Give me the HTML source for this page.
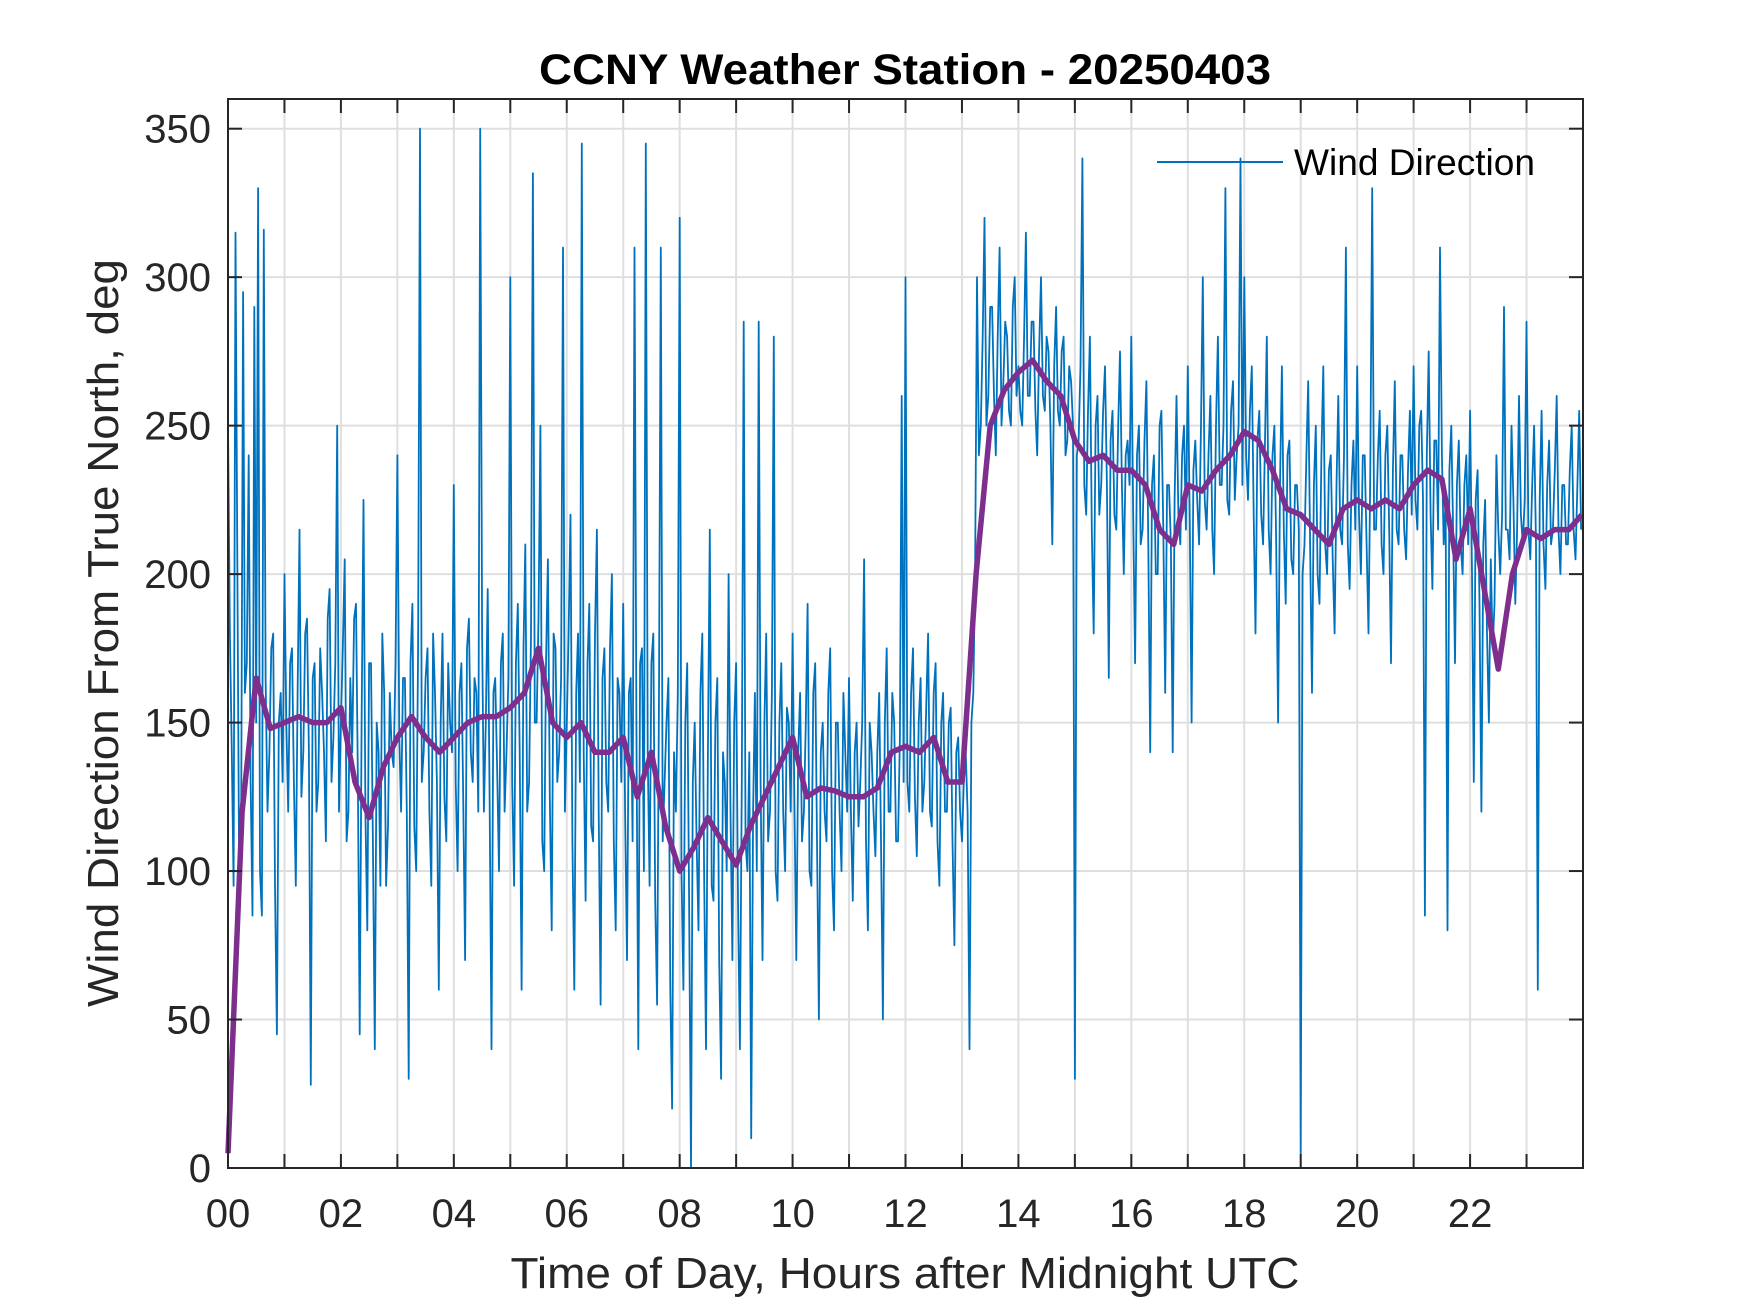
<!DOCTYPE html>
<html><head><meta charset="utf-8"><style>
html,body{margin:0;padding:0;background:#fff;}
svg{display:block;font-family:"Liberation Sans",Arial,sans-serif;}
</style></head><body>
<svg id="chart" width="1750" height="1313" viewBox="0 0 1750 1313" xmlns="http://www.w3.org/2000/svg">
<rect width="1750" height="1313" fill="#fff"/>
<g id="grid"></g>
<g id="series"></g>
<g id="axes"></g>
<text x="905" y="84" text-anchor="middle" font-size="43" font-weight="bold" fill="#000" textLength="732" lengthAdjust="spacingAndGlyphs">CCNY Weather Station - 20250403</text>
<text x="905" y="1288" text-anchor="middle" font-size="44" fill="#262626" textLength="789" lengthAdjust="spacingAndGlyphs">Time of Day, Hours after Midnight UTC</text>
<text transform="translate(118,633) rotate(-90)" text-anchor="middle" font-size="44" fill="#262626" textLength="748" lengthAdjust="spacingAndGlyphs">Wind Direction From True North, deg</text>
<g>
<line x1="1157" y1="162" x2="1283" y2="162" stroke="#0072BD" stroke-width="2"/>
<text x="1294" y="175" font-size="37" fill="#000" textLength="241" lengthAdjust="spacingAndGlyphs">Wind Direction</text>
</g>
</svg>
<script>
const xTickLabels = ["00","02","04","06","08","10","12","14","16","18","20","22"];
const yTickValues = [0,50,100,150,200,250,300,350];
const windDirection = [
250,180,140,95,315,200,90,120,295,160,170,240,130,85,290,150,330,100,85,316,165,120,140,175,180,95,45,150,160,130,
200,150,120,170,175,130,95,160,215,125,140,180,185,140,28,165,170,120,130,175,160,140,110,185,195,130,145,170,250,120,
150,175,205,110,120,165,140,185,190,130,45,150,225,120,80,170,170,110,40,150,140,95,180,160,95,115,160,140,135,170,
240,145,120,165,165,120,30,170,190,115,100,175,350,130,140,165,175,120,95,180,160,130,60,150,180,125,110,170,150,140,
230,130,100,160,170,125,70,175,185,140,130,165,160,120,350,180,120,150,195,125,40,160,165,135,100,170,180,120,140,165,
300,130,95,170,190,140,60,175,210,120,130,180,335,150,150,185,250,110,100,170,205,125,80,180,175,130,140,165,310,120,
150,180,220,110,60,160,180,130,345,140,90,170,190,115,110,180,215,120,55,165,175,130,120,175,200,110,80,165,160,130,
190,120,70,160,165,110,310,150,40,170,175,100,345,140,95,170,180,90,55,160,310,110,130,150,165,60,20,140,120,160,
320,100,60,150,170,90,0,130,150,110,80,160,180,100,40,140,215,95,90,150,165,70,30,140,130,100,200,120,70,150,
170,90,40,130,285,110,100,140,10,120,160,100,285,130,70,150,180,110,120,160,280,100,90,150,170,120,100,155,150,120,
180,120,70,140,160,110,120,150,190,100,95,160,170,110,50,140,150,120,110,160,175,100,80,150,150,120,100,160,140,120,
165,120,90,140,150,115,130,150,205,110,80,150,140,120,105,140,160,110,50,150,175,120,120,160,150,110,110,145,260,130,
300,130,120,160,175,125,105,150,165,120,130,155,180,120,115,160,170,110,95,150,160,120,120,150,155,110,75,140,145,120,
110,130,140,120,40,150,160,200,300,240,250,280,320,250,260,290,290,260,240,280,310,250,265,285,280,255,250,290,300,260,
270,255,250,280,315,260,260,285,285,255,240,275,300,260,255,280,275,250,210,270,290,255,250,275,280,240,245,270,265,250,
30,240,245,270,340,230,220,255,280,215,180,250,260,220,230,255,270,230,165,245,255,220,215,250,275,230,200,240,245,230,
280,220,170,240,250,210,215,245,265,210,140,230,240,200,200,250,255,215,160,230,230,210,140,225,260,220,210,240,250,215,
270,220,150,235,245,225,210,250,300,225,215,240,260,215,200,250,280,230,230,250,330,225,220,255,265,225,240,250,340,230,
300,240,225,255,270,220,180,245,255,220,210,245,280,215,200,240,250,210,150,230,270,215,190,240,245,205,200,230,230,215,
5,200,210,240,265,210,160,230,250,200,190,240,270,210,200,235,240,205,180,230,260,215,210,240,310,210,195,230,245,215,
270,220,200,240,240,210,180,235,330,215,215,240,255,210,200,240,250,215,170,235,265,215,210,240,240,215,205,235,255,220,
270,225,215,250,255,225,85,240,275,220,195,245,245,215,310,240,210,225,80,235,250,215,170,230,245,210,200,230,240,210,
255,200,130,225,235,190,120,210,225,180,150,205,175,190,240,215,200,220,290,215,215,205,250,225,190,215,260,220,210,225,
285,215,205,230,250,210,60,225,255,210,195,230,245,210,215,235,260,215,200,230,230,210,210,235,250,215,205,230,255,215
];
const windSamplesPerHour = 30;
const smoothedDirection = [
5,120,165,148,150,152,150,150,155,130,118,135,145,152,145,140,
145,150,152,152,155,160,175,150,145,150,140,140,145,125,140,115,
100,108,118,110,102,115,125,135,145,125,128,127,125,125,128,140,
142,140,145,130,130,200,250,262,268,272,265,260,245,238,240,235,
235,230,215,210,230,228,235,240,248,245,235,222,220,215,210,222,
225,222,225,222,230,235,232,205,222,195,168,200,215,212,215,215,220
];
const smoothedStepHours = 0.25;

const L=228, R=1583, T=99, B=1168, XMAX=24, YMAX=360;
const xs = h => L + (R-L)*h/XMAX;
const ys = v => B - (B-T)*v/YMAX;
const NS="http://www.w3.org/2000/svg";
function mk(tag, attrs, parent){const e=document.createElementNS(NS,tag);for(const k in attrs)e.setAttribute(k,attrs[k]);parent.appendChild(e);return e;}
const grid=document.getElementById('grid'), series=document.getElementById('series'), axes=document.getElementById('axes');

for(let h=1;h<XMAX;h++){
  const g=mk('line',{x1:xs(h),x2:xs(h),y1:T,y2:B,stroke:'#dfdfdf','stroke-width':2},grid);
  
  
}
yTickValues.forEach(v=>{
  if(v===0) return;
  const g=mk('line',{x1:L,x2:R,y1:ys(v),y2:ys(v),stroke:'#dfdfdf','stroke-width':2},grid);
  
  
});

const bluePts = windDirection.map((v,i)=>xs(Math.min(i/windSamplesPerHour,23.98)).toFixed(1)+','+ys(v).toFixed(1)).join(' ');
const blue=mk('polyline',{points:bluePts,fill:'none',stroke:'#0072BD','stroke-width':1.8,'stroke-linejoin':'round'},series);



const purplePts = smoothedDirection.map((v,i)=>xs(Math.min(i*smoothedStepHours,23.98)).toFixed(1)+','+ys(v).toFixed(1)).join(' ');
const purple=mk('polyline',{points:purplePts,fill:'none',stroke:'#7E2F8E','stroke-width':5.5,'stroke-linejoin':'round'},series);



const box=mk('rect',{x:L,y:T,width:R-L,height:B-T,fill:'none',stroke:'#262626','stroke-width':2},axes);



for(let h=1;h<XMAX;h++){
  const t1=mk('line',{x1:xs(h),x2:xs(h),y1:B,y2:B-14,stroke:'#262626','stroke-width':2},axes);
  
  
  const t2=mk('line',{x1:xs(h),x2:xs(h),y1:T,y2:T+14,stroke:'#262626','stroke-width':2},axes);
  
  
}
xTickLabels.forEach((lab,i)=>{
  const t=mk('text',{x:xs(i*2),y:1227,'text-anchor':'middle','font-size':40,fill:'#262626'},axes);
  t.textContent=lab;
  
  
});
yTickValues.forEach(v=>{
  const a=mk('line',{x1:L,x2:L+14,y1:ys(v),y2:ys(v),stroke:'#262626','stroke-width':2},axes);
  
  
  const b=mk('line',{x1:R,x2:R-14,y1:ys(v),y2:ys(v),stroke:'#262626','stroke-width':2},axes);
  
  
  const t=mk('text',{x:211,y:ys(v)+14,'text-anchor':'end','font-size':40,fill:'#262626'},axes);
  t.textContent=String(v);
  
  
});
</script>
</body></html>
